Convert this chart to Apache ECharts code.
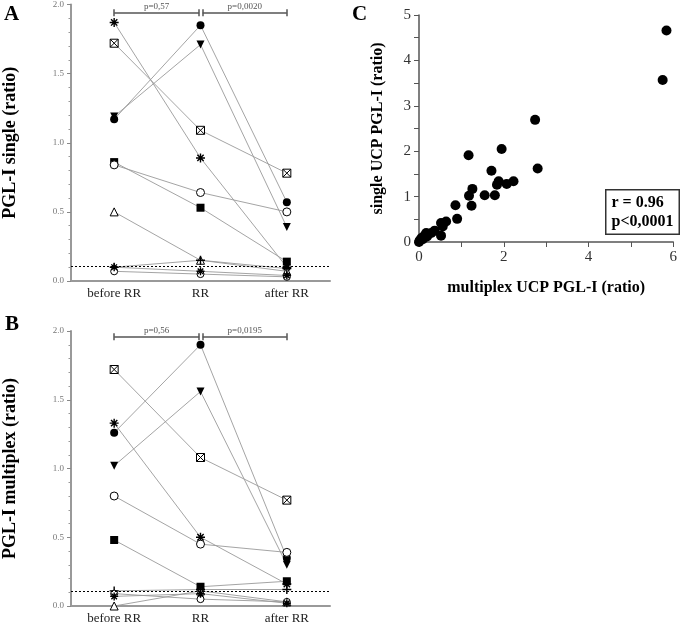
<!DOCTYPE html>
<html><head><meta charset="utf-8">
<script src="https://cdn.jsdelivr.net/npm/echarts@6/dist/echarts.min.js"></script>
<style>html,body{margin:0;padding:0;background:#fff}#c{width:680px;height:625px}</style>
</head><body><div id="c"></div>
<script>
// ---------- data ----------
const categories = ['before RR', 'RR', 'after RR'];

// Panel A: PGL-I single (ratio)
const A_star     = [1.87, 0.89, 0.10];
const A_boxX     = [1.72, 1.09, 0.78];
const A_fCircle  = [1.17, 1.85, 0.57];
const A_fTriDown = [1.19, 1.71, 0.39];
const A_fSquare  = [0.86, 0.53, 0.14];
const A_oCircle  = [0.84, 0.64, 0.50];
const A_oTri     = [0.50, 0.15, 0.07];
const A_plus     = [0.10, 0.15, 0.09];
const A_oCircle2 = [0.07, 0.05, 0.03];
const A_star2    = [0.10, 0.07, 0.04];

// Panel B: PGL-I multiplex (ratio)
const B_star     = [1.33, 0.50, 0.16];
const B_boxX     = [1.72, 1.08, 0.77];
const B_fCircle  = [1.26, 1.90, 0.35];
const B_fTriDown = [1.02, 1.56, 0.30];
const B_fSquare  = [0.48, 0.14, 0.18];
const B_oCircle  = [0.80, 0.45, 0.39];
const B_oTri     = [0.00, 0.11, 0.03];
const B_plus     = [0.11, 0.12, 0.12];
const B_oCircle2 = [0.09, 0.05, 0.03];
const B_star2    = [0.07, 0.09, 0.02];

const cutoffA = 0.105;
const cutoffB = 0.108;
const pValuesA = ['p=0,57', 'p=0,0020'];
const pValuesB = ['p=0,56', 'p=0,0195'];

// Panel C: single vs multiplex
const C_multiplex = [5.84, 5.75, 2.74, 1.95, 1.17, 2.80, 1.71, 1.88, 1.84, 2.07, 2.23, 1.26, 1.18, 1.55, 1.79, 1.24, 0.86, 0.90, 0.64, 0.52, 0.56, 0.52, 0.37, 0.29, 0.13, 0.17, 0.06, 0.02, 0.09, 0.19, 0.00];
const C_single    = [4.66, 3.57, 2.69, 2.05, 1.91, 1.62, 1.57, 1.34, 1.26, 1.28, 1.34, 1.17, 1.02, 1.03, 1.03, 0.80, 0.81, 0.51, 0.45, 0.42, 0.34, 0.14, 0.25, 0.20, 0.14, 0.20, 0.09, 0.04, 0.06, 0.12, 0.00];
const C_stats = ['r = 0.96', 'p<0,0001'];

// ---------- styles ----------
const FONT = 'Liberation Serif';
const sym = {
  star:     {symbol: 'path://M5,0L5,10M0,5L10,5M1.5,1.5L8.5,8.5M8.5,1.5L1.5,8.5', fill: 'transparent', stroke: '#000', bw: 1.4, size: 9},
  boxX:     {symbol: 'path://M0,0L10,0L10,10L0,10ZM0,0L10,10M10,0L0,10', fill: '#fff', stroke: '#000', bw: 1, size: 8},
  fCircle:  {symbol: 'circle', fill: '#000', stroke: '#000', bw: 0, size: 8},
  fTriDown: {symbol: 'triangle', rotate: 180, fill: '#000', stroke: '#000', bw: 0, size: 8},
  fSquare:  {symbol: 'rect', fill: '#000', stroke: '#000', bw: 0, size: 8},
  oCircle:  {symbol: 'circle', fill: '#fff', stroke: '#000', bw: 1, size: 8},
  oTri:     {symbol: 'triangle', fill: '#fff', stroke: '#000', bw: 1, size: 8},
  plus:     {symbol: 'path://M5,0L5,10M0,5L10,5', fill: 'transparent', stroke: '#000', bw: 1.4, size: 9},
  oCircle2: {symbol: 'circle', fill: '#fff', stroke: '#000', bw: 1, size: 7},
  star2:    {symbol: 'path://M5,0L5,10M0,5L10,5M1.5,1.5L8.5,8.5M8.5,1.5L1.5,8.5', fill: 'transparent', stroke: '#000', bw: 1.4, size: 8}
};
const seriesA = {star: A_star, boxX: A_boxX, fCircle: A_fCircle, fTriDown: A_fTriDown, fSquare: A_fSquare, oCircle: A_oCircle, oTri: A_oTri, plus: A_plus, oCircle2: A_oCircle2, star2: A_star2};
const seriesB = {star: B_star, boxX: B_boxX, fCircle: B_fCircle, fTriDown: B_fTriDown, fSquare: B_fSquare, oCircle: B_oCircle, oTri: B_oTri, plus: B_plus, oCircle2: B_oCircle2, star2: B_star2};

function patientSeries(map, xi, yi) {
  return Object.keys(map).map(k => {
    const s = sym[k];
    return {
      type: 'line', name: k, xAxisIndex: xi, yAxisIndex: yi, data: map[k],
      symbol: s.symbol, symbolSize: s.size, symbolRotate: s.rotate || 0, showSymbol: true,
      lineStyle: {color: '#9a9a9a', width: 0.9},
      itemStyle: {color: s.fill, borderColor: s.stroke, borderWidth: s.bw},
      emphasis: {disabled: true}, animation: false, z: 3
    };
  });
}

function bracketSeries(xi, yi, pv, level, cutoff) {
  const lo = level - 0.025, hi = level + 0.025;
  const seg = (x1, y1, x2, y2, label) => {
    const a = {coord: [x1, y1]}, b = {coord: [x2, y2]};
    if (label) a.label = {show: true, formatter: label, position: 'insideMiddleTop', distance: 2, fontFamily: FONT, fontSize: 9, color: '#555'};
    else a.label = {show: false};
    return [a, b];
  };
  return {
    type: 'line', xAxisIndex: xi, yAxisIndex: yi, data: [], silent: true, clip: false, animation: false,
    markLine: {
      silent: true, symbol: 'none', animation: false,
      lineStyle: {color: '#555', width: 1.5, type: 'solid'},
      label: {show: false},
      data: [
        seg(0, level, 0.985, level, pv[0]),
        seg(1.025, level, 2, level, pv[1]),
        seg(0, lo, 0, hi), seg(0.985, lo, 0.985, hi),
        seg(1.025, lo, 1.025, hi), seg(2, lo, 2, hi),
        [{coord: [-0.5, cutoff], lineStyle: {type: [2, 2], color: '#000', width: 1}, label: {show: false}}, {coord: [2.5, cutoff]}]
      ]
    }
  };
}

const axisGray = '#999';
function catAxis(gi) {
  return {
    type: 'category', gridIndex: gi, data: categories, boundaryGap: true,
    axisLine: {onZero: false, lineStyle: {color: axisGray, width: 2}},
    axisTick: {alignWithLabel: true, length: 4, lineStyle: {color: '#777', width: 1}},
    axisLabel: {fontFamily: FONT, fontSize: 13, color: '#222', margin: 6},
    splitLine: {show: false}
  };
}
function hiddenX(gi) {
  return {type: 'value', gridIndex: gi, min: -0.5, max: 2.5, show: false, splitLine: {show: false}};
}
function ratioY(gi, name) {
  return {
    type: 'value', gridIndex: gi, min: 0, max: 2, interval: 0.5,
    name: name, nameLocation: 'middle', nameGap: 52,
    nameTextStyle: {fontFamily: FONT, fontSize: 18, fontWeight: 'bold', color: '#000'},
    axisLine: {show: true, onZero: false, lineStyle: {color: axisGray, width: 2}},
    axisTick: {show: true, length: 4, lineStyle: {color: '#888', width: 1}},
    minorTick: {show: true, splitNumber: 5, length: 2.5, lineStyle: {color: '#999', width: 1}},
    axisLabel: {fontFamily: FONT, fontSize: 9, color: '#777', margin: 7, formatter: v => v.toFixed(1)},
    splitLine: {show: false}
  };
}

const option = {
  backgroundColor: '#fff',
  animation: false,
  grid: [
    {left: 70, top: 3, width: 260, height: 278},
    {left: 70, top: 331, width: 260, height: 277},
    {left: 419, top: 15, width: 258, height: 227}
  ],
  xAxis: [
    catAxis(0), hiddenX(0), catAxis(1), hiddenX(1),
    {
      type: 'value', gridIndex: 2, min: 0, max: 6, interval: 2,
      name: 'multiplex UCP PGL-I (ratio)', nameLocation: 'middle', nameGap: 38,
      nameTextStyle: {fontFamily: FONT, fontSize: 16, fontWeight: 'bold', color: '#000'},
      axisLine: {onZero: false, lineStyle: {color: '#555', width: 1.5}},
      axisTick: {show: true, length: 5, lineStyle: {color: '#555'}},
      minorTick: {show: true, splitNumber: 2, length: 5, lineStyle: {color: '#555'}},
      axisLabel: {fontFamily: FONT, fontSize: 15, color: '#333', margin: 8},
      splitLine: {show: false}
    }
  ],
  yAxis: [
    ratioY(0, 'PGL-I single (ratio)'),
    ratioY(1, 'PGL-I multiplex (ratio)'),
    {
      type: 'value', gridIndex: 2, min: 0, max: 5, interval: 1,
      name: 'single UCP PGL-I (ratio)', nameLocation: 'middle', nameGap: 33,
      nameTextStyle: {fontFamily: FONT, fontSize: 16, fontWeight: 'bold', color: '#000'},
      axisLine: {show: true, onZero: false, lineStyle: {color: '#555', width: 1.5}},
      axisTick: {show: true, length: 5, lineStyle: {color: '#555'}},
      minorTick: {show: true, splitNumber: 2, length: 5, lineStyle: {color: '#555'}},
      axisLabel: {fontFamily: FONT, fontSize: 15, color: '#333', margin: 8},
      splitLine: {show: false}
    }
  ],
  series: [
    bracketSeries(1, 0, pValuesA, 1.94, cutoffA),
    bracketSeries(3, 1, pValuesB, 1.958, cutoffB),
    ...patientSeries(seriesA, 0, 0),
    ...patientSeries(seriesB, 2, 1),
    {
      type: 'scatter', xAxisIndex: 4, yAxisIndex: 2,
      data: C_multiplex.map((x, i) => [x, C_single[i]]),
      symbol: 'circle', symbolSize: 10, itemStyle: {color: '#000', opacity: 1}, clip: false
    }
  ],
  graphic: [
    {type: 'text', left: 4, top: 4, style: {text: 'A', font: 'bold 21px "Liberation Serif"', fill: '#000'}},
    {type: 'text', left: 5, top: 314, style: {text: 'B', font: 'bold 21px "Liberation Serif"', fill: '#000'}},
    {type: 'text', left: 352, top: 4, style: {text: 'C', font: 'bold 21px "Liberation Serif"', fill: '#000'}},
    {type: 'text', left: 605, top: 189, z: 10, style: {
      text: C_stats.join('\n'), font: 'bold 16px "Liberation Serif"', fill: '#000', lineHeight: 19,
      backgroundColor: '#fff', borderColor: '#333', borderWidth: 1.5, padding: [3, 5, 2, 5]
    }}
  ]
};
const chart = echarts.init(document.getElementById('c'), null, {renderer: 'canvas'});
chart.setOption(option);
</script></body></html>
